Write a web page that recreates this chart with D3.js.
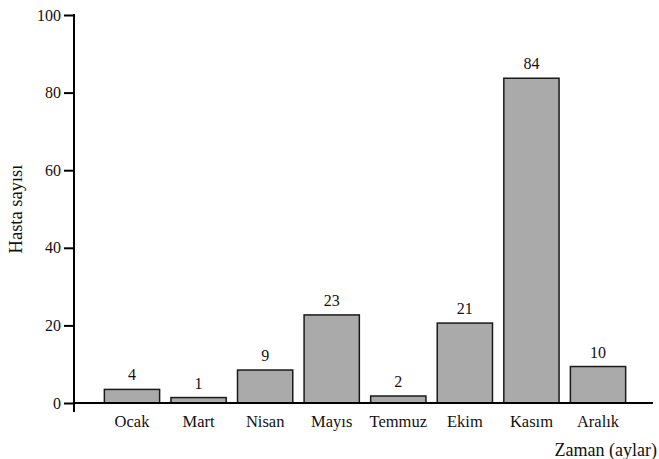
<!DOCTYPE html>
<html><head><meta charset="utf-8">
<script src="https://cdn.jsdelivr.net/npm/d3@7"></script>
<style>body{margin:0;background:#fff}svg{display:block}svg text{font-family:'Liberation Serif','Times New Roman',Times,'DejaVu Serif',serif !important;fill:#111}</style>
</head><body>
<svg id="c" width="659" height="459"></svg>
<script>
const categories = ["Ocak","Mart","Nisan","Mayıs","Temmuz","Ekim","Kasım","Aralık"];
const barValues = [3.5, 1.4, 8.5, 22.7, 1.8, 20.6, 83.7, 9.4];
const valueLabels = ["4","1","9","23","2","21","84","10"];
const yTicks = [0, 20, 40, 60, 80, 100];
const yTitle = "Hasta sayısı";
const xTitle = "Zaman (aylar)";

const svg = d3.select("#c");
const y = d3.scaleLinear().domain([0, 100]).range([403, 15]);
const x = d3.scaleBand().domain(categories).range([98.7, 631.3]).paddingInner(0.17).paddingOuter(0.085);

// bars
svg.selectAll("rect.bar").data(barValues).join("rect")
  .attr("class","bar")
  .attr("x",(d,i)=>x(categories[i]))
  .attr("width",x.bandwidth())
  .attr("y",d=>y(d))
  .attr("height",d=>y(0)-y(d))
  .attr("fill","#aaaaaa").attr("stroke","#1a1a1a").attr("stroke-width",1.5);

// value labels
svg.selectAll("text.val").data(barValues).join("text")
  .attr("class","val")
  .attr("x",(d,i)=>x(categories[i])+x.bandwidth()/2)
  .attr("y",d=>y(d)-9)
  .attr("text-anchor","middle").attr("font-size",16)
  .text((d,i)=>valueLabels[i]);

// y axis
const yAxis = d3.axisLeft(y).tickValues(yTicks).tickSize(10).tickPadding(3).tickFormat(d3.format("d"));
const gy = svg.append("g").attr("transform","translate(74,0)").call(yAxis);
gy.attr("font-family",null);
gy.select(".domain").remove();
gy.selectAll(".tick line").attr("stroke","#000").attr("stroke-width",2);
gy.selectAll(".tick text").attr("font-size",16).attr("fill","#111");
svg.append("line").attr("x1",74).attr("x2",74).attr("y1",y(100)-1).attr("y2",412).attr("stroke","#000").attr("stroke-width",2);

// x axis
const xAxis = d3.axisBottom(x).tickSize(0).tickPadding(12);
const gx = svg.append("g").attr("transform","translate(0,403)").call(xAxis);
gx.attr("font-family",null);
gx.select(".domain").remove();
gx.selectAll(".tick text").attr("font-size",16.5).attr("fill","#111");
svg.append("line").attr("x1",73).attr("x2",653).attr("y1",403).attr("y2",403).attr("stroke","#000").attr("stroke-width",2);

// titles
svg.append("text").attr("transform","translate(22,209) rotate(-90)")
  .attr("text-anchor","middle").attr("font-size",18.5).text(yTitle);
svg.append("text").attr("x",657).attr("y",456).attr("text-anchor","end").attr("font-size",18).text(xTitle);
</script>
</body></html>
